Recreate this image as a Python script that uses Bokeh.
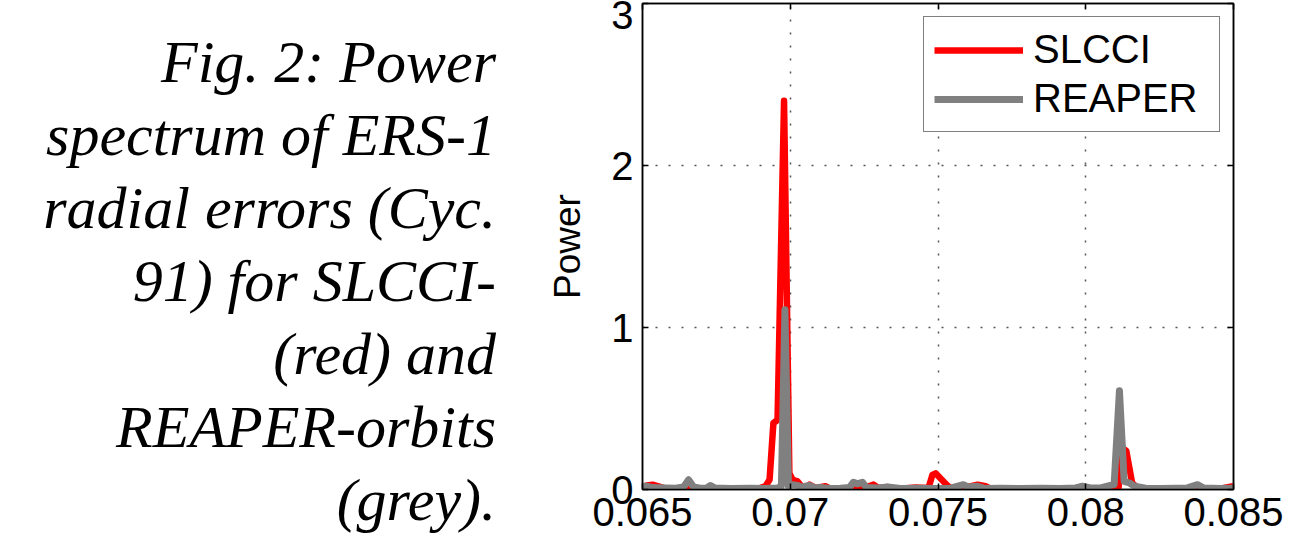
from bokeh.plotting import figure
from bokeh.models import Range1d, FixedTicker, Div, LinearAxis
from bokeh.layouts import row
from bokeh.embed import file_html
from bokeh.resources import INLINE

# ---------------- data ----------------
CAPTION_LINES = [
    "Fig. 2: Power",
    "spectrum of ERS-1",
    "radial errors (Cyc.",
    "91) for SLCCI-",
    "(red) and",
    "REAPER-orbits",
    "(grey).",
]

SERIES_NAMES = ["SLCCI", "REAPER"]
SERIES_COLORS = ["#ff0000", "#808080"]

FREQ_SLCCI = [
    0.06500, 0.06514, 0.06534, 0.06554, 0.06578, 0.06612, 0.06656, 0.06696,
    0.06730, 0.06764, 0.06798, 0.06832, 0.06865, 0.06899, 0.06916, 0.06930,
    0.06943, 0.06957, 0.06979, 0.06997, 0.07008, 0.07025, 0.07038, 0.07052,
    0.07065, 0.07085, 0.07119, 0.07136, 0.07170, 0.07244, 0.07282, 0.07299,
    0.07329, 0.07349, 0.07373, 0.07424, 0.07468, 0.07481, 0.07492, 0.07508,
    0.07529, 0.07542, 0.07586, 0.07634, 0.07661, 0.07678, 0.07712, 0.07779,
    0.07847, 0.07915, 0.07989, 0.08050, 0.08093, 0.08111, 0.08120, 0.08137,
    0.08157, 0.08175, 0.08203, 0.08254, 0.08304, 0.08378, 0.08425, 0.08458,
    0.08499,
]
POWER_SLCCI = [
    0.015, 0.025, 0.030, 0.020, 0.005, 0.008, 0.004, 0.006,
    0.010, 0.005, 0.008, 0.004, 0.007, 0.010, 0.020, 0.060,
    0.410, 0.430, 2.400, 0.100, 0.060, 0.050, 0.020, 0.010,
    0.030, 0.010, 0.020, 0.005, 0.008, 0.006, 0.030, 0.010,
    0.015, 0.010, 0.005, 0.012, 0.010, 0.090, 0.100, 0.070,
    0.030, 0.010, 0.010, 0.030, 0.020, 0.005, 0.006, 0.005,
    0.007, 0.005, 0.010, 0.006, 0.010, 0.010, 0.260, 0.240,
    0.040, 0.010, 0.006, 0.005, 0.007, 0.008, 0.005, 0.006,
    0.020,
]

FREQ_REAPER = [
    0.06500, 0.06514, 0.06534, 0.06578, 0.06612, 0.06639, 0.06656, 0.06673,
    0.06696, 0.06717, 0.06730, 0.06744, 0.06798, 0.06865, 0.06916, 0.06957,
    0.06970, 0.06982, 0.06994, 0.07008, 0.07025, 0.07038, 0.07052, 0.07065,
    0.07085, 0.07102, 0.07136, 0.07170, 0.07200, 0.07214, 0.07227, 0.07244,
    0.07258, 0.07299, 0.07329, 0.07373, 0.07424, 0.07492, 0.07542, 0.07586,
    0.07603, 0.07634, 0.07661, 0.07712, 0.07779, 0.07847, 0.07915, 0.07965,
    0.07989, 0.08016, 0.08050, 0.08083, 0.08096, 0.08114, 0.08130, 0.08148,
    0.08165, 0.08203, 0.08254, 0.08304, 0.08344, 0.08378, 0.08398, 0.08458,
    0.08499,
]
POWER_REAPER = [
    0.020, 0.020, 0.012, 0.010, 0.008, 0.015, 0.060, 0.015,
    0.008, 0.010, 0.025, 0.010, 0.006, 0.008, 0.006, 0.010,
    0.020, 1.110, 0.020, 0.030, 0.025, 0.015, 0.020, 0.025,
    0.010, 0.012, 0.006, 0.008, 0.012, 0.045, 0.035, 0.045,
    0.012, 0.010, 0.015, 0.006, 0.008, 0.006, 0.008, 0.030,
    0.015, 0.020, 0.006, 0.008, 0.006, 0.007, 0.006, 0.010,
    0.020, 0.010, 0.010, 0.025, 0.030, 0.610, 0.050, 0.040,
    0.020, 0.008, 0.006, 0.008, 0.010, 0.030, 0.010, 0.006,
    0.008,
]

X_TICKS = [0.065, 0.07, 0.075, 0.08, 0.085]
X_TICK_LABELS = ["0.065", "0.07", "0.075", "0.08", "0.085"]
Y_TICKS = [0, 1, 2, 3]
Y_LABEL = "Power"

SANS = "Liberation Sans"
SERIF = "Liberation Serif"

# ---------------- layout sizes ----------------
H = 549
CAP_W = 500
ML, FW, MR = 142, 591, 58
MT, MB = 3, 60

# ---------------- caption ----------------
caption_html = (
    '<div style="display: block; box-sizing: border-box; width: 496px; '
    'font-family: \'Liberation Serif\', serif; font-style: italic; '
    'font-size: 60px; line-height: 73px; text-align: right; color: black; '
    'white-space: nowrap; padding: 26px 0 0 0; margin: 0;">'
    + "<br>".join(CAPTION_LINES) + "</div>"
)
cap = Div(text=caption_html, width=CAP_W, height=H, margin=0)

# ---------------- spectrum plot ----------------
p = figure(width=ML + FW + MR, height=H,
           x_range=Range1d(X_TICKS[0], X_TICKS[-1]),
           y_range=Range1d(Y_TICKS[0], Y_TICKS[-1]),
           output_backend="svg", toolbar_location=None,
           min_border_left=ML, min_border_right=MR,
           min_border_top=MT, min_border_bottom=MB,
           outline_line_color="black", outline_line_width=1.5, margin=0)

p.line(FREQ_SLCCI, POWER_SLCCI, line_color=SERIES_COLORS[0], line_width=6.5,
       line_join="round", legend_label=SERIES_NAMES[0])
p.line(FREQ_REAPER, POWER_REAPER, line_color=SERIES_COLORS[1], line_width=7,
       line_join="round", legend_label=SERIES_NAMES[1])

p.xaxis.ticker = FixedTicker(ticks=X_TICKS)
p.xaxis.major_label_overrides = dict(zip(X_TICKS, X_TICK_LABELS))
p.yaxis.ticker = FixedTicker(ticks=Y_TICKS)
p.yaxis.axis_label = Y_LABEL

for ax in (p.xaxis[0], p.yaxis[0]):
    ax.major_tick_in = 6
    ax.major_tick_out = 0
    ax.minor_tick_line_color = None
    ax.axis_line_color = "black"
    ax.axis_line_width = 1.5
    ax.major_tick_line_color = "black"
    ax.major_tick_line_width = 1.5
    ax.major_label_text_font = SANS
    ax.major_label_text_font_size = "40px"
    ax.major_label_text_color = "black"
p.xaxis.major_label_standoff = 8
p.yaxis.major_label_standoff = 9
p.yaxis.axis_label_text_font = SANS
p.yaxis.axis_label_text_font_size = "37px"
p.yaxis.axis_label_text_font_style = "normal"
p.yaxis.axis_label_text_color = "black"
p.yaxis.axis_label_standoff = 20

# box ticks on the top and right edges (no labels)
for loc, tks in (("above", X_TICKS), ("right", Y_TICKS)):
    bx = LinearAxis(ticker=FixedTicker(ticks=tks))
    bx.major_tick_in = 6
    bx.major_tick_out = 0
    bx.minor_tick_line_color = None
    bx.major_tick_line_color = "black"
    bx.major_tick_line_width = 1.5
    bx.axis_line_color = "black"
    bx.axis_line_width = 1.5
    bx.major_label_text_font_size = "0px"
    bx.major_label_text_alpha = 0
    bx.major_label_standoff = 0
    p.add_layout(bx, loc)

p.xgrid.ticker = FixedTicker(ticks=X_TICKS)
p.ygrid.ticker = FixedTicker(ticks=Y_TICKS)
for g in (p.xgrid[0], p.ygrid[0]):
    g.grid_line_color = "#555555"
    g.grid_line_width = 1.5
    g.grid_line_dash = "2 11"

leg = p.legend[0]
leg.location = "top_right"
leg.margin = 13
leg.label_text_font = SANS
leg.label_text_font_size = "40px"
leg.label_text_color = "black"
leg.glyph_width = 89
leg.glyph_height = 40
leg.label_standoff = 10
leg.label_width = 176
leg.padding = 10
leg.spacing = 4
leg.border_line_color = "black"
leg.border_line_width = 1.5
leg.background_fill_alpha = 1.0

layout = row(cap, p)

with open("out.html", "w") as f:
    f.write(file_html(layout, INLINE))
